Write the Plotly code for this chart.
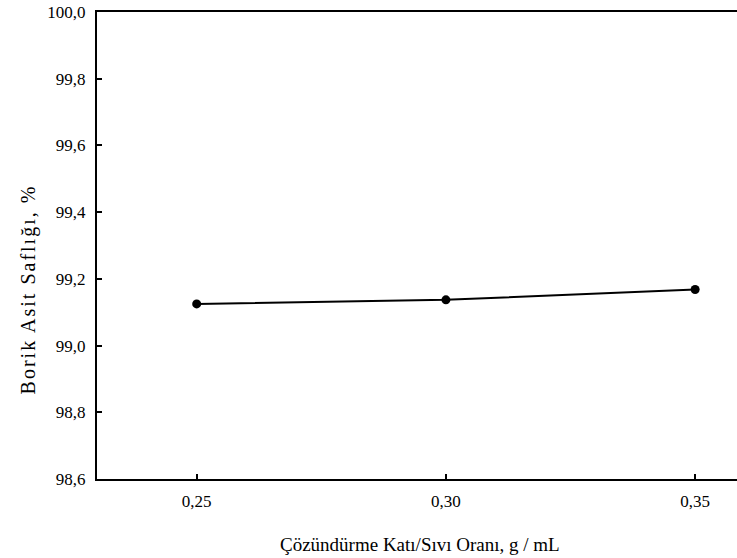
import plotly.graph_objects as go

ratio = [0.25, 0.30, 0.35]
purity = [99.125, 99.137, 99.168]
x_ticks = [0.25, 0.30, 0.35]
y_ticks = [98.6, 98.8, 99.0, 99.2, 99.4, 99.6, 99.8, 100.0]
x_title = "Çözündürme Katı/Sıvı Oranı, g / mL"
y_title = "Borik Asit Saflığı, %"

font = "Liberation Serif, Times New Roman, serif"

fig = go.Figure()
fig.add_trace(go.Scatter(
    x=ratio, y=purity, mode="lines+markers",
    line=dict(color="black", width=2),
    marker=dict(color="black", size=9),
    showlegend=False,
))

fig.update_layout(
    width=737, height=558,
    margin=dict(l=97, r=0, t=12, b=79),
    paper_bgcolor="white", plot_bgcolor="white",
    separators=", ",
    font=dict(family=font, size=17, color="black"),
    xaxis=dict(
        range=[0.23, 0.3584], tickvals=x_ticks, tickformat=".2f",
        ticks="inside", ticklen=5, tickwidth=1.5, tickcolor="black",
        ticklabelstandoff=6,
        showline=True, linecolor="black", linewidth=2, mirror=True,
        showgrid=False, zeroline=False,
    ),
    yaxis=dict(
        range=[98.6, 100.0], tickvals=y_ticks, tickformat=".1f",
        ticks="inside", ticklen=5, tickwidth=1.5, tickcolor="black",
        ticklabelstandoff=6,
        showline=True, linecolor="black", linewidth=2,
        showgrid=False, zeroline=False,
    ),
    annotations=[
        dict(text=x_title, xref="paper", yref="paper", x=0.505, y=-0.141,
             xanchor="center", yanchor="middle", showarrow=False,
             font=dict(size=19)),
        dict(text=y_title, xref="paper", yref="paper", x=-0.107, y=0.405,
             xanchor="center", yanchor="middle", showarrow=False, textangle=-90,
             font=dict(size=20)),
    ],
)

post = """
var t = document.querySelectorAll('.annotation-text');
if (t.length > 1) { t[1].style.letterSpacing = '2px'; }
"""
fig.write_html("out.html", post_script=post)
